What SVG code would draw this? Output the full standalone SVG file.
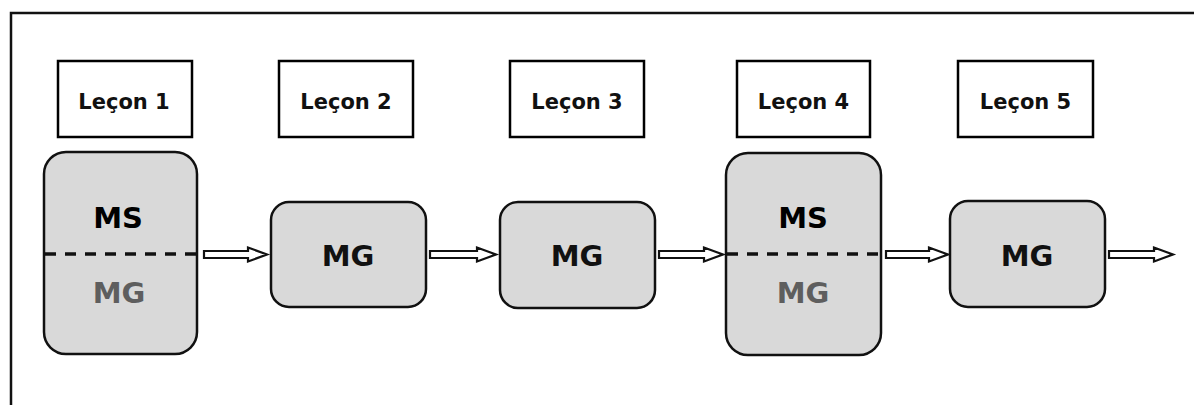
<svg xmlns="http://www.w3.org/2000/svg" width="1194" height="405" viewBox="0 0 1194 405">
<style>
.lab{fill:#fff;stroke:#000;stroke-width:2.5}
.labt{font-family:"DejaVu Sans",sans-serif;font-weight:bold;font-size:21px;fill:#111;text-anchor:middle}
.node{fill:#d9d9d9;stroke:#111;stroke-width:2.5}
.big{font-family:"DejaVu Sans",sans-serif;font-weight:bold;font-size:29px;text-anchor:middle}
.ms{fill:#000}
.mg{fill:#111}
.mgg{fill:#5e5e5e}
.dash{stroke:#111;stroke-width:3.5;stroke-dasharray:11 9;fill:none}
.arr{fill:#fff;stroke:#111;stroke-width:2.2;stroke-linejoin:miter}
</style>
<rect width="1194" height="405" fill="#fff"/>
<path d="M11,405 V13 H1194" fill="none" stroke="#111" stroke-width="2.5"/>

<g id="lecon1"><rect class="lab" x="58" y="61" width="134" height="76"/><text class="labt" x="124" y="109">Leçon 1</text></g>
<g id="lecon2"><rect class="lab" x="279" y="61" width="134" height="76"/><text class="labt" x="346" y="109">Leçon 2</text></g>
<g id="lecon3"><rect class="lab" x="510" y="61" width="134" height="76"/><text class="labt" x="577" y="109">Leçon 3</text></g>
<g id="lecon4"><rect class="lab" x="737" y="61" width="133" height="76"/><text class="labt" x="803.5" y="109">Leçon 4</text></g>
<g id="lecon5"><rect class="lab" x="958" y="61" width="135" height="76"/><text class="labt" x="1025.5" y="109">Leçon 5</text></g>

<g id="node1">
<rect class="node" x="44" y="152" width="153" height="202" rx="22"/>
<line class="dash" x1="45" y1="254" x2="196" y2="254"/>
<text class="big ms" x="118" y="228">MS</text>
<text class="big mgg" x="119" y="303">MG</text>
</g>
<g id="node2">
<rect class="node" x="271" y="202" width="155" height="105" rx="18"/>
<text class="big mg" x="348" y="266">MG</text>
</g>
<g id="node3">
<rect class="node" x="500" y="202" width="155" height="106" rx="18"/>
<text class="big mg" x="577" y="266">MG</text>
</g>
<g id="node4">
<rect class="node" x="726" y="153" width="155" height="202" rx="22"/>
<line class="dash" x1="727" y1="254" x2="880" y2="254"/>
<text class="big ms" x="803" y="228">MS</text>
<text class="big mgg" x="803" y="303">MG</text>
</g>
<g id="node5">
<rect class="node" x="950" y="201" width="155" height="106" rx="18"/>
<text class="big mg" x="1027" y="266">MG</text>
</g>

<g id="connectors">
<polygon class="arr" points="204,251 248,251 248,247.5 267,254.5 248,261.5 248,258 204,258"/>
<polygon class="arr" points="430,251 477,251 477,247.5 496,254.5 477,261.5 477,258 430,258"/>
<polygon class="arr" points="659,251 704,251 704,247.5 723,254.5 704,261.5 704,258 659,258"/>
<polygon class="arr" points="886,251 929,251 929,247.5 948,254.5 929,261.5 929,258 886,258"/>
<polygon class="arr" points="1109,251 1154,251 1154,247.5 1173,254.5 1154,261.5 1154,258 1109,258"/>
</g>
</svg>
